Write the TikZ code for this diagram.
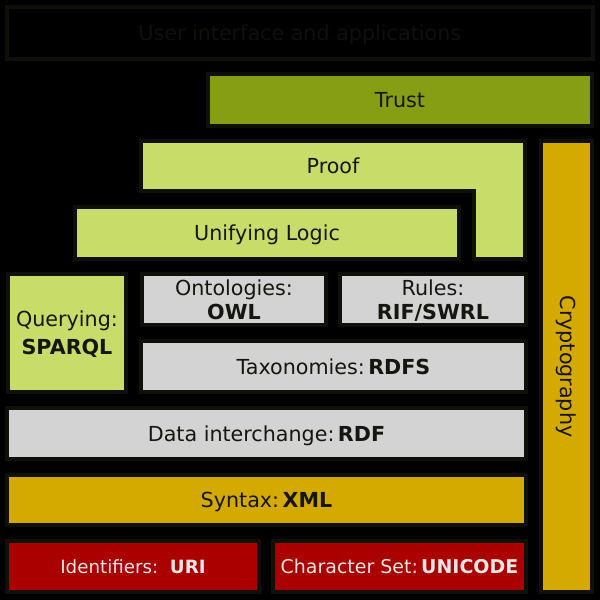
\documentclass[tikz,border=0pt]{standalone}
\usepackage{fontspec}
\setmainfont{DejaVu Sans}
\definecolor{edge}{RGB}{16,16,10}
\definecolor{trustgreen}{RGB}{134,158,20}
\definecolor{logicgreen}{RGB}{200,220,105}
\definecolor{stackgrey}{RGB}{211,211,211}
\definecolor{xmlyellow}{RGB}{212,170,0}
\definecolor{basered}{RGB}{170,0,0}
\definecolor{darktext}{RGB}{22,22,16}
\definecolor{lighttext}{RGB}{230,230,230}
\tikzset{
  layer/.style={draw=edge, line width=0.1cm, rectangle, inner sep=0pt, text depth=0pt,
    text=darktext, font=\fontsize{14.7}{17}\selectfont, align=center}
}
\begin{document}
\begin{tikzpicture}[x=0.025cm, y=-0.025cm]
        \fill[black] (0,0) rectangle (600,600);
        \useasboundingbox (0,0) rectangle (600,600);
        \node[layer, text=edge, minimum width=14.6375cm, minimum height=1.3cm] (ui) at (299.75,33) {User interface and applications};
        \node[layer, fill=trustgreen, minimum width=9.6cm, minimum height=1.3cm] (trust) at (400,100) {Trust};
        \draw[edge, line width=0.1cm, fill=logicgreen] (141,141) -- (525,141) -- (525,259) -- (474,259) -- (474,191) -- (141,191) -- cycle;
        \node[font=\fontsize{14.7}{17}\selectfont, text=darktext] (proof) at (333,166) {Proof};
        \node[layer, fill=logicgreen, minimum width=9.6125cm, minimum height=1.3cm] (logic) at (267,233) {Unifying Logic};
        \node[layer, fill=xmlyellow, minimum width=1.275cm, minimum height=11.275cm] (crypto) at (566.5,366.5) {};
        \node[font=\fontsize{14.7}{17}\selectfont, text=darktext, rotate=-90] (cryptotext) at (crypto.center) {Cryptography};
        \node[layer, fill=logicgreen, minimum width=2.9625cm, minimum height=2.95cm] (query) at (67,333) {Querying:\\[3pt]\textbf{SPARQL}};
        \node[layer, fill=stackgrey, minimum width=4.6125cm, minimum height=1.275cm] (owl) at (234,299.5) {Ontologies:\\\textbf{OWL}};
        \node[layer, fill=stackgrey, minimum width=4.625cm, minimum height=1.275cm] (rules) at (433,299.5) {Rules:\\\textbf{RIF/SWRL}};
        \node[layer, fill=stackgrey, minimum width=9.6cm, minimum height=1.275cm] (rdfs) at (333.5,366.5) {Taxonomies:\,\textbf{RDFS}};
        \node[layer, fill=stackgrey, minimum width=12.95cm, minimum height=1.275cm] (rdf) at (266.5,433.5) {Data interchange:\,\textbf{RDF}};
        \node[layer, fill=xmlyellow, minimum width=12.95cm, minimum height=1.25cm] (xml) at (266.5,500) {Syntax:\,\textbf{XML}};
        \node[layer, fill=basered, text=lighttext, font=\fontsize{13}{16}\selectfont, minimum width=6.2875cm, minimum height=1.275cm] (uri) at (133,566.5) {Identifiers:~~\textbf{URI}};
        \node[layer, fill=basered, text=lighttext, font=\fontsize{13.5}{16}\selectfont, minimum width=6.3cm, minimum height=1.275cm] (unicode) at (399.5,566.5) {Character Set:\,\textbf{UNICODE}};
    \end{tikzpicture}
\end{document}
